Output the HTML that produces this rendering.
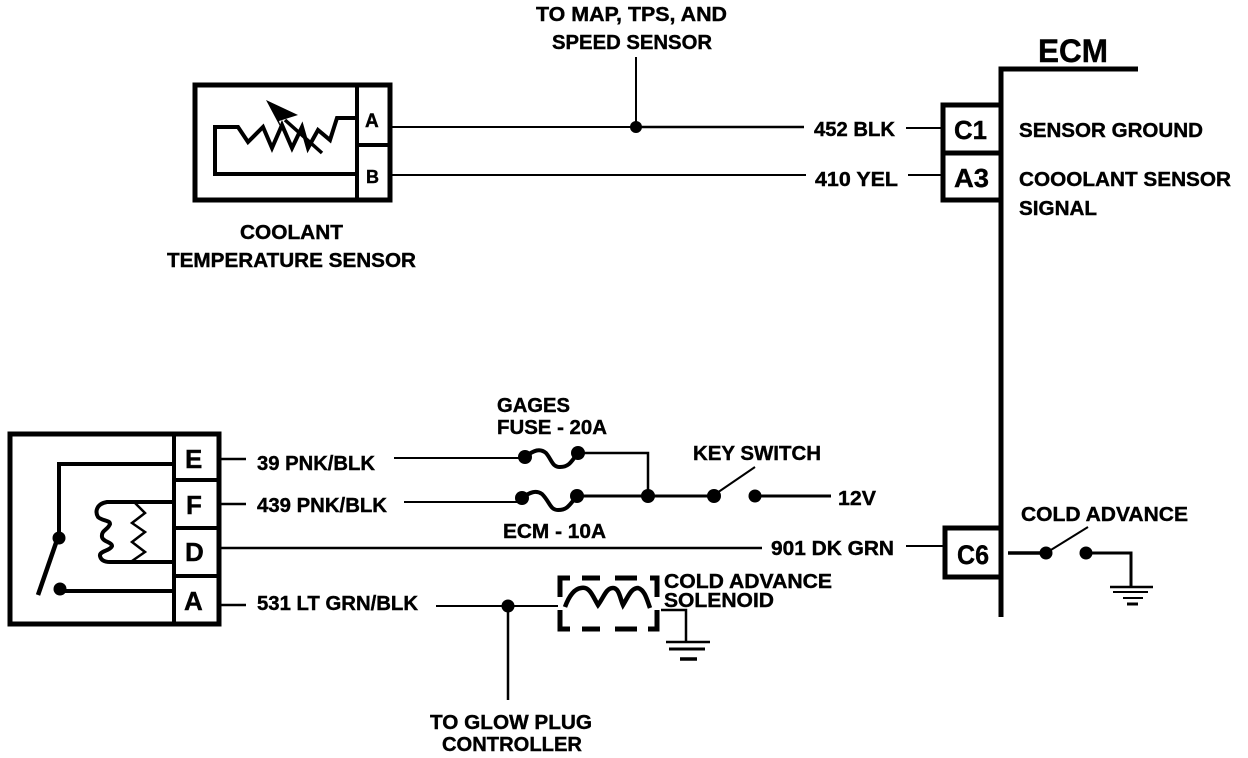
<!DOCTYPE html>
<html><head><meta charset="utf-8"><style>
html,body{margin:0;padding:0;background:#fff}
svg{display:block}
text{font-family:"Liberation Sans",sans-serif;font-weight:bold;fill:#000;font-size:20px;stroke:#000;stroke-width:.4px}
.l{stroke:#000;fill:none}
</style></head><body>
<svg width="1248" height="758" viewBox="0 0 1248 758" xmlns="http://www.w3.org/2000/svg">
<g class="l" stroke-width="5">
<!-- ECM -->
<path d="M1138 69H1001V617"/>
<path d="M1001 105H943V200H1001"/>
<path d="M943 153H1001"/>
<path d="M1001 528H945V577H1001"/>
<!-- CTS box -->
<path d="M195 85H390V200H195Z"/>
<path d="M357 85V200M357 145H390" stroke-width="4"/>
<path d="M357 118H337L330 140L318 130L308 148L302 127L292 148L282 125L272 148L263 127L248 142L238 127H215V174H357" stroke-width="4"/>
<path d="M285 120L322 153" stroke-width="3.5"/>
<!-- Relay box -->
<path d="M10 434H219V624H10Z"/>
<path d="M174 434V624M174 480H219M174 528H219M174 576H219" stroke-width="4"/>
<path d="M172 464H59V537" stroke-width="4"/>
<path d="M57 540L38 595" stroke-width="4.5"/>
<path d="M172 502H107C96 504 95 512 98 517C102 521 110 520 110 524C108 530 101 530 102 537C103 542 112 542 112 546C110 551 99 551 100 556C101 561 106 562 110 562H172" stroke-width="4"/>
<path d="M135 503L145 513L132 523L145 532L132 542L145 552L132 561" stroke-width="2.5"/>
<path d="M60 591H172" stroke-width="4"/>
<!-- top wires -->
<path d="M392 127H640" stroke-width="2"/>
<path d="M640 127H804" stroke-width="2.5"/>
<path d="M636 57V127" stroke-width="2"/>
<path d="M392 175H806" stroke-width="2"/>
<path d="M906 128H943M908 175H943" stroke-width="2"/>
<!-- lower wires -->
<path d="M221 459H246M221 504H246M221 548H762M221 605H246" stroke-width="2.5"/>
<path d="M394 458H525M404 502H522" stroke-width="2"/>
<path d="M525 457C534 450 540 448 546 453C552 460 552 467 560 467C570 467 572 460 578 453" stroke-width="4"/>
<path d="M522 498C530 492 536 490 542 494C550 502 550 510 558 510C568 510 570 504 577 496" stroke-width="4"/>
<path d="M578 453H648V495" stroke-width="2.5"/>
<path d="M576 496H714" stroke-width="3"/>
<path d="M714 495L755 467" stroke-width="2"/>
<path d="M755 496H831" stroke-width="3"/>
<path d="M906 546H945" stroke-width="2"/>
<!-- cold advance switch -->
<path d="M1008 553H1046" stroke-width="3.5"/>
<path d="M1046 553L1088 527" stroke-width="2"/>
<path d="M1086 553H1131V586" stroke-width="3"/>
<path d="M1110 587H1153" stroke-width="2.5"/>
<path d="M1113 592H1148" stroke-width="2"/>
<path d="M1123 598H1143" stroke-width="2"/>
<path d="M1127 604H1138" stroke-width="3"/>
<!-- solenoid wires -->
<path d="M436 606H558" stroke-width="2"/>
<path d="M508 606V700" stroke-width="2.5"/>
<path d="M570 578H560V597M560 610V629H570" stroke-width="5"/>
<path d="M582 578H600M615 578H637M582 629H600M615 629H637" stroke-width="5"/>
<path d="M650 578H657V597M657 610V629H648" stroke-width="5"/>
<path d="M565 607C569 596 574 589 581 588C590 586 593 597 598 605C604 597 606 588 613 588C619 588 620 598 623 605C628 597 631 588 638 588C645 590 647 600 650 608" stroke-width="4.5"/>
<path d="M661 610H686V642" stroke-width="2.5"/>
<path d="M666 642H710" stroke-width="2.5"/>
<path d="M669 649H705" stroke-width="3"/>
<path d="M680 659H697" stroke-width="3.5"/>
</g>
<!-- arrow -->
<polygon points="266,100 298,115 279,121 283,132"/>
<g>
<circle cx="636" cy="127" r="6"/>
<circle cx="525" cy="457" r="7"/><circle cx="578" cy="453" r="7"/>
<circle cx="522" cy="498" r="7"/><circle cx="577" cy="496" r="7"/>
<circle cx="648" cy="496" r="7"/><circle cx="714" cy="496" r="7"/><circle cx="755" cy="496" r="6.5"/>
<circle cx="1046" cy="553" r="6.5"/><circle cx="1086" cy="553" r="6.5"/>
<circle cx="508" cy="606" r="6.5"/>
<circle cx="59" cy="538" r="6.5"/><circle cx="60" cy="589" r="6.5"/>
</g>
<!-- text -->
<text x="536" y="21" textLength="191" lengthAdjust="spacingAndGlyphs">TO MAP, TPS, AND</text>
<text x="552" y="49" textLength="160" lengthAdjust="spacingAndGlyphs">SPEED  SENSOR</text>
<text x="1038" y="62" style="font-size:32px" textLength="70" lengthAdjust="spacingAndGlyphs">ECM</text>
<text x="365" y="127" style="font-size:19px">A</text>
<text x="366" y="183" style="font-size:18px">B</text>
<text x="240" y="239" textLength="103" lengthAdjust="spacingAndGlyphs">COOLANT</text>
<text x="167" y="267" textLength="249" lengthAdjust="spacingAndGlyphs">TEMPERATURE  SENSOR</text>
<text x="814" y="136" textLength="81" lengthAdjust="spacingAndGlyphs">452 BLK</text>
<text x="815" y="186" textLength="83" lengthAdjust="spacingAndGlyphs">410 YEL</text>
<text x="954" y="139" style="font-size:26px" textLength="33" lengthAdjust="spacingAndGlyphs">C1</text>
<text x="954" y="187" style="font-size:26px" textLength="35" lengthAdjust="spacingAndGlyphs">A3</text>
<text x="1019" y="137" textLength="184" lengthAdjust="spacingAndGlyphs">SENSOR GROUND</text>
<text x="1019" y="186" textLength="212" lengthAdjust="spacingAndGlyphs">COOOLANT SENSOR</text>
<text x="1019" y="215" textLength="78" lengthAdjust="spacingAndGlyphs">SIGNAL</text>
<text x="497" y="412" textLength="73" lengthAdjust="spacingAndGlyphs">GAGES</text>
<text x="497" y="434" textLength="110" lengthAdjust="spacingAndGlyphs">FUSE - 20A</text>
<text x="693" y="460" textLength="128" lengthAdjust="spacingAndGlyphs">KEY SWITCH</text>
<text x="257" y="470" textLength="118" lengthAdjust="spacingAndGlyphs">39 PNK/BLK</text>
<text x="257" y="512" textLength="130" lengthAdjust="spacingAndGlyphs">439 PNK/BLK</text>
<text x="838" y="505" textLength="38" lengthAdjust="spacingAndGlyphs">12V</text>
<text x="503" y="538" textLength="103" lengthAdjust="spacingAndGlyphs">ECM - 10A</text>
<text x="771" y="555" textLength="123" lengthAdjust="spacingAndGlyphs">901 DK GRN</text>
<text x="957" y="564" style="font-size:27px" textLength="32" lengthAdjust="spacingAndGlyphs">C6</text>
<text x="1021" y="521" textLength="167" lengthAdjust="spacingAndGlyphs">COLD ADVANCE</text>
<text x="257" y="610" textLength="161" lengthAdjust="spacingAndGlyphs">531 LT GRN/BLK</text>
<text x="664" y="588" textLength="168" lengthAdjust="spacingAndGlyphs">COLD ADVANCE</text>
<text x="664" y="607" textLength="110" lengthAdjust="spacingAndGlyphs">SOLENOID</text>
<text x="430" y="729" textLength="162" lengthAdjust="spacingAndGlyphs">TO GLOW PLUG</text>
<text x="442" y="751" textLength="140" lengthAdjust="spacingAndGlyphs">CONTROLLER</text>
<text x="185" y="468" style="font-size:26px">E</text>
<text x="186" y="514" style="font-size:26px">F</text>
<text x="185" y="561" style="font-size:26px">D</text>
<text x="184" y="610" style="font-size:26px">A</text>
</svg>
</body></html>
